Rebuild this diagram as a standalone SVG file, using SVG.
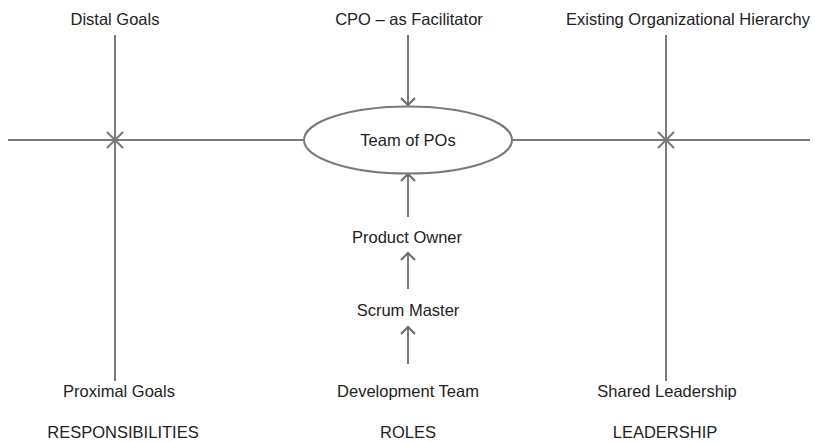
<svg xmlns="http://www.w3.org/2000/svg" width="815" height="442" viewBox="0 0 815 442">
<defs>
<style>
.ln{stroke:#7a7a7a;stroke-width:2;fill:none}
.t{font-family:"Liberation Sans",Arial,sans-serif;font-size:16.5px;fill:#222;text-anchor:middle}
</style>
<marker id="ah" markerWidth="16" markerHeight="16" refX="8" refY="8" orient="auto" markerUnits="userSpaceOnUse">
<path d="M1,1 L8,8 L1,15" fill="none" stroke="#6a6a6a" stroke-width="2"/>
</marker>
</defs>
<rect width="815" height="442" fill="#fff"/>
<g id="connectors">
<line class="ln" x1="8" y1="140" x2="304" y2="140"/>
<line class="ln" x1="512" y1="140" x2="810" y2="140"/>
<line class="ln" x1="115" y1="35" x2="115" y2="381"/>
<line class="ln" x1="666" y1="35" x2="666" y2="381"/>
<path class="ln" d="M107,132 L123,148 M107,148 L123,132" stroke="#555"/>
<path class="ln" d="M658,132 L674,148 M658,148 L674,132" stroke="#555"/>
<line class="ln" x1="408" y1="35" x2="408" y2="105" marker-end="url(#ah)"/>
<line class="ln" x1="408" y1="217" x2="408" y2="174" marker-end="url(#ah)"/>
<line class="ln" x1="408" y1="289" x2="408" y2="253" marker-end="url(#ah)"/>
<line class="ln" x1="408" y1="364" x2="408" y2="327" marker-end="url(#ah)"/>
</g>
<g id="team-of-pos">
<ellipse class="ln" cx="408" cy="140" rx="104" ry="33.5"/>
<text class="t" x="408" y="146">Team of POs</text>
</g>
<g id="distal-goals"><text class="t" x="115" y="25">Distal Goals</text></g>
<g id="cpo"><text class="t" x="409" y="25">CPO – as Facilitator</text></g>
<g id="existing-hierarchy"><text class="t" x="688" y="25">Existing Organizational Hierarchy</text></g>
<g id="product-owner"><text class="t" x="407" y="243">Product Owner</text></g>
<g id="scrum-master"><text class="t" x="408" y="316">Scrum Master</text></g>
<g id="proximal-goals"><text class="t" x="119" y="397">Proximal Goals</text></g>
<g id="development-team"><text class="t" x="408" y="397">Development Team</text></g>
<g id="shared-leadership"><text class="t" x="667" y="397">Shared Leadership</text></g>
<g id="responsibilities"><text class="t" x="123" y="438">RESPONSIBILITIES</text></g>
<g id="roles"><text class="t" x="408" y="438">ROLES</text></g>
<g id="leadership"><text class="t" x="665" y="438">LEADERSHIP</text></g>
</svg>
